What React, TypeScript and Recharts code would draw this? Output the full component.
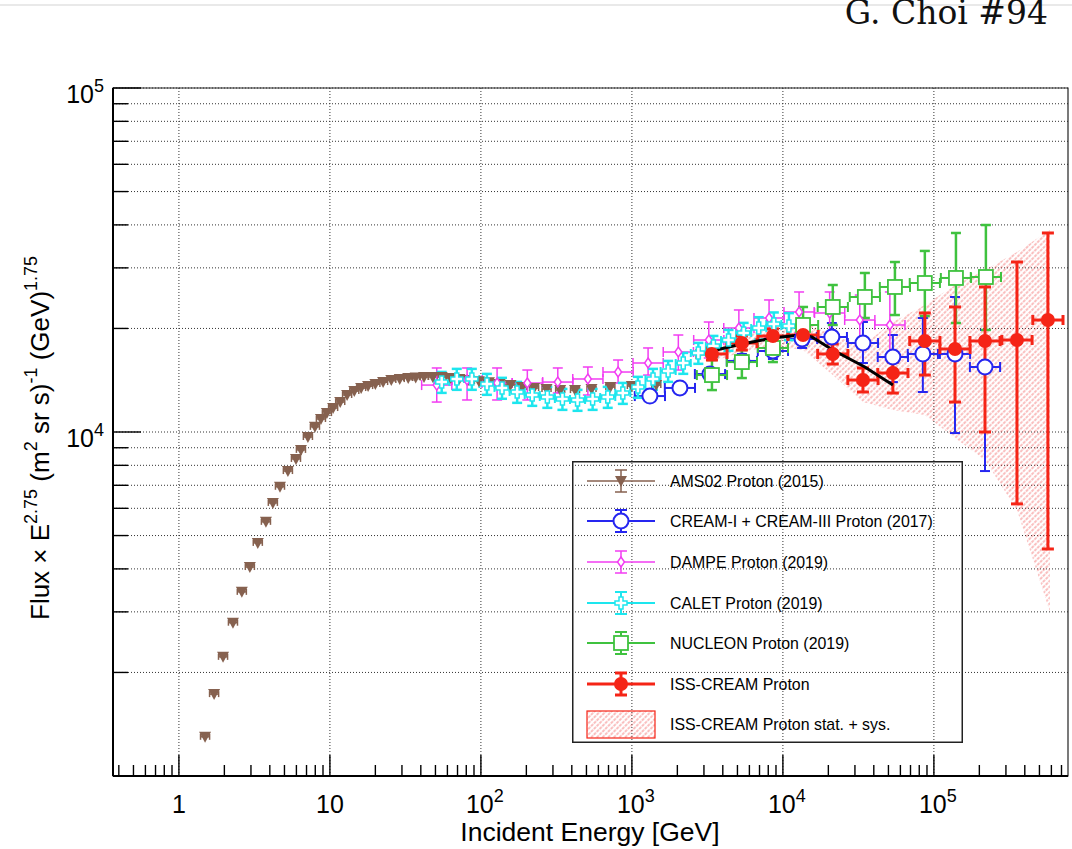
import React from "react";
import {
  ComposedChart,
  XAxis,
  YAxis,
  CartesianGrid,
  Scatter,
  ErrorBar,
  Line,
  Area,
  ReferenceArea,
} from "recharts";

// axis ranges (log-log)
const X_DOMAIN = [0.366, 7.73e5];
const Y_DOMAIN = [1000, 100000];
const X_MAJOR = [1, 10, 100, 1000, 1e4, 1e5];
const Y_MAJOR = [1e4, 1e5];

const minorsOf = (decades: number[], lo: number, hi: number) =>
  decades
    .flatMap((d) => [2, 3, 4, 5, 6, 7, 8, 9].map((m) => m * d))
    .filter((v) => v > lo && v < hi);

const X_TICKS = [...X_MAJOR, ...minorsOf([0.1, 1, 10, 100, 1000, 1e4, 1e5], X_DOMAIN[0], X_DOMAIN[1])];
const Y_TICKS = [1000, ...Y_MAJOR, ...minorsOf([1000, 1e4], 1000, 1e5)];

// AMS02 proton (2015)
const amsE = [1.49, 1.71, 1.96, 2.28, 2.61, 2.95, 3.33, 3.77, 4.19, 4.67, 5.27, 5.96, 6.43, 7.15, 7.96, 8.72, 9.55, 10.5, 11.7, 13.0, 14.5, 16.1, 17.9, 20.0, 22.5, 25.5, 29, 33, 37, 42, 48, 55, 63, 72, 83, 97, 113, 133, 157, 187, 225, 272, 335, 420, 540, 720, 1000, 1450];
const amsF = [1300, 1730, 2220, 2790, 3430, 4050, 4760, 5480, 6220, 6930, 7700, 8350, 8870, 9670, 10350, 10910, 11350, 11740, 12220, 12810, 13150, 13420, 13600, 13790, 13970, 14160, 14250, 14350, 14400, 14450, 14450, 14450, 14350, 14250, 14160, 14050, 13960, 13790, 13690, 13510, 13420, 13330, 13240, 13240, 13330, 13510, 13600, 13690];

// CREAM-I + CREAM-III (2017)
const creamE = [1316, 2080, 3290, 5350, 8590, 13400, 21100, 33900, 53500, 84500, 138000, 218000];
const creamF = [12720, 13430, 14740, 16090, 17200, 18640, 18890, 18140, 16520, 16860, 16860, 15450];
const creamLo = [12390, 13070, 14160, 15350, 16300, 17550, 17310, 15870, 13970, 13070, 9930, 7700];
const creamHi = [13070, 13790, 15350, 16860, 18140, 19800, 20740, 20880, 19140, 21450, 24690, 19800];

// DAMPE (2019)
const dampeE = [51, 81, 128, 203, 323, 511, 810, 1280, 2030, 3230, 5110, 8100, 12800, 20400, 32300, 51100];
const dampeF = [13690, 14160, 13880, 13880, 13970, 14260, 14940, 15870, 17080, 18510, 20060, 21450, 22330, 22180, 21160, 20470];
const dampeLo = [12220, 12390, 12390, 12390, 12980, 12810, 13880, 14640, 15140, 16410, 17780, 18890, 19400, 19140, 17900, 16190];
const dampeHi = [15350, 15350, 15350, 15140, 15350, 15450, 16190, 17550, 19140, 20880, 22630, 24200, 25530, 25530, 25010, 25530];

// CALET (2019)
const caletE = [55.0, 69.2, 87.1, 109.6, 138, 173.8, 218.8, 275.4, 346.7, 436.5, 549.5, 691.8, 871, 1096, 1380, 1738, 2188, 2754, 3467, 4365, 5495, 6918, 8710, 10965];
const caletF = [13970, 14260, 14260, 13790, 13430, 13070, 12810, 12640, 12470, 12390, 12470, 12640, 12980, 13520, 14260, 15040, 15870, 16970, 17780, 18510, 19400, 20060, 20610, 20330];
const caletRelErr = [0.07, 0.07, 0.07, 0.07, 0.07, 0.07, 0.07, 0.07, 0.07, 0.07, 0.07, 0.07, 0.07, 0.07, 0.07, 0.07, 0.07, 0.07, 0.07, 0.07, 0.07, 0.075, 0.08, 0.09];

// NUCLEON (2019)
const nucE = [3390, 5350, 8590, 13600, 21400, 34900, 55200, 87100, 140000, 221000];
const nucF = [14640, 15970, 17550, 20470, 23090, 24690, 26400, 27110, 28040, 28220];
const nucLo = [13240, 14350, 15970, 17900, 20470, 21450, 21880, 21740, 20740, 19800];
const nucHi = [16190, 17310, 19140, 23090, 26750, 28990, 31200, 33600, 37890, 39970];

// ISS-CREAM
const issE = [3390, 5350, 8590, 13600, 21400, 33900, 53500, 87100, 138000, 218000, 355000, 569000];
const issF = [16860, 18140, 19010, 19140, 16860, 14160, 14840, 18390, 17430, 18390, 18510, 21160];
const issLo = [16190, 17310, 18140, 18140, 15760, 13070, 12980, 14640, 12220, 10000, 6180, 4570];
const issHi = [17550, 19010, 19930, 20200, 18020, 15350, 15970, 22180, 23090, 26400, 31200, 37890];

// ISS-CREAM stat. + sys. band
const bandE = [3390, 5350, 8590, 13600, 21400, 33900, 53500, 87100, 138000, 218000, 355000, 586000];
const bandLo = [15970, 17080, 17780, 17310, 14640, 12220, 11590, 11210, 9610, 8290, 5930, 3000];
const bandHi = [17900, 19010, 20060, 20880, 19140, 17900, 20880, 23400, 26750, 29570, 33370, 38660];

// broken power-law fit
const fitE = [3390, 5350, 8590, 12970, 15560, 21400, 34900, 53500];
const fitF = [17200, 18020, 18760, 19140, 18890, 17310, 15450, 13690];

// half bin widths in decades
const BIN_AMS = 0.03;
const BIN_CALET = 0.05;
const BIN_WIDE = 0.1;

const C_AMS = "#86614f";
const C_CREAM = "#2626f0";
const C_DAMPE = "#f23cf2";
const C_CALET = "#1de6ee";
const C_NUC = "#3fc23f";
const C_ISS = "#f52416";

const toPoints = (E: number[], F: number[], lo: number[], hi: number[], half: number) =>
  E.map((x, i) => ({
    x,
    y: F[i],
    ex: [x - x / 10 ** half, x * 10 ** half - x],
    ey: [F[i] - lo[i], hi[i] - F[i]],
  }));

const amsData = toPoints(amsE, amsF, amsF, amsF, BIN_AMS);
const creamData = toPoints(creamE, creamF, creamLo, creamHi, BIN_WIDE);
const dampeData = toPoints(dampeE, dampeF, dampeLo, dampeHi, BIN_WIDE);
const caletData = toPoints(
  caletE,
  caletF,
  caletF.map((f, i) => f * (1 - caletRelErr[i])),
  caletF.map((f, i) => f * (1 + caletRelErr[i])),
  BIN_CALET
);
const nucData = toPoints(nucE, nucF, nucLo, nucHi, BIN_WIDE);
const issData = toPoints(issE, issF, issLo, issHi, BIN_WIDE);
const bandData = bandE.map((x, i) => ({ x, range: [bandLo[i], bandHi[i]] }));
const fitData = fitE.map((x, i) => ({ x, y: fitF[i] }));

const FONT = '"Liberation Sans", Arial, Helvetica, sans-serif';
const TICK_FS = 25;
const SUP_FS = 18;

// marker shapes
const TriDown = ({ cx, cy }: any) => (
  <polygon points={`${cx - 6},${cy - 5} ${cx + 6},${cy - 5} ${cx},${cy + 6}`} fill={C_AMS} />
);
const OpenCircle = ({ cx, cy }: any) => (
  <circle cx={cx} cy={cy} r={7.5} fill="#fff" stroke={C_CREAM} strokeWidth={2} />
);
const OpenDiamond = ({ cx, cy }: any) => (
  <polygon points={`${cx},${cy - 5} ${cx + 3.5},${cy} ${cx},${cy + 5} ${cx - 3.5},${cy}`} fill="#fff" stroke={C_DAMPE} strokeWidth={1.5} />
);
const OpenCross = ({ cx, cy }: any) => {
  const s = 6;
  const t = 2;
  const d = `M${cx - t},${cy - s}H${cx + t}V${cy - t}H${cx + s}V${cy + t}H${cx + t}V${cy + s}H${cx - t}V${cy + t}H${cx - s}V${cy - t}H${cx - t}Z`;
  return <path d={d} fill="#fff" stroke={C_CALET} strokeWidth={1.5} />;
};
const OpenSquare = ({ cx, cy }: any) => (
  <rect x={cx - 7} y={cy - 7} width={14} height={14} fill="#fff" stroke={C_NUC} strokeWidth={1.8} />
);
const FullCircle = ({ cx, cy }: any) => <circle cx={cx} cy={cy} r={7} fill={C_ISS} />;

const Decade = ({ x, y, v, anchor }: { x: number; y: number; v: number; anchor: "start" | "end" }) => {
  const exp = Math.round(Math.log10(v));
  if (exp <= 1) {
    return (
      <text x={x} y={y} textAnchor="middle" fontSize={TICK_FS} fontFamily={FONT} fill="#000">
        {String(v)}
      </text>
    );
  }
  return (
    <text x={x} y={y} textAnchor={anchor} fontSize={TICK_FS} fontFamily={FONT} fill="#000">
      10
      <tspan dy={-11} fontSize={SUP_FS}>
        {exp}
      </tspan>
    </text>
  );
};

const XTick = ({ x, y, payload }: any) => {
  const v = payload.value;
  const major = X_MAJOR.includes(v);
  return (
    <g>
      <line x1={x} x2={x} y1={y} y2={y - (major ? 21 : 11)} stroke="#000" strokeWidth={1.4} />
      {major && <Decade x={v >= 100 ? x - 15 : x} y={y + 37} v={v} anchor="start" />}
    </g>
  );
};

const YTick = ({ x, y, payload }: any) => {
  const v = payload.value;
  if (v <= 1000) return <g />;
  const major = Y_MAJOR.includes(v);
  return (
    <g>
      <line x1={x} x2={x + (major ? 28 : 15)} y1={y} y2={y} stroke="#000" strokeWidth={1.4} />
      {major && <Decade x={x - 9} y={y + 15} v={v} anchor="end" />}
    </g>
  );
};

type Row = { label: string; color: string; marker: (p: any) => React.ReactElement; width: number };

const LEGEND_ROWS: Row[] = [
  { label: "AMS02 Proton (2015)", color: C_AMS, marker: TriDown, width: 1.5 },
  { label: "CREAM-I + CREAM-III Proton (2017)", color: C_CREAM, marker: OpenCircle, width: 2 },
  { label: "DAMPE Proton (2019)", color: C_DAMPE, marker: OpenDiamond, width: 1.5 },
  { label: "CALET Proton (2019)", color: C_CALET, marker: OpenCross, width: 2 },
  { label: "NUCLEON Proton (2019)", color: C_NUC, marker: OpenSquare, width: 2 },
  { label: "ISS-CREAM Proton", color: C_ISS, marker: FullCircle, width: 3 },
];

const HatchDef = ({ id }: { id: string }) => (
  <pattern id={id} width={4} height={4} patternUnits="userSpaceOnUse" patternTransform="rotate(45)">
    <line x1={1} y1={0} x2={1} y2={4} stroke="#f04848" strokeWidth={1} strokeDasharray="2.2 1" strokeOpacity={0.7} />
  </pattern>
);

function LegendBox() {
  const rowY = [20, 60, 101, 142, 182, 223];
  return (
    <svg width={391} height={282} style={{ position: "absolute", left: 572, top: 461 }}>
      <defs>
        <HatchDef id="hatchLegend" />
      </defs>
      <rect x={0.75} y={0.75} width={389.5} height={280.5} fill="none" stroke="#222" strokeWidth={1.5} />
      {LEGEND_ROWS.map((r, i) => {
        const cy = rowY[i];
        const M = r.marker;
        return (
          <g key={r.label}>
            <line x1={15} x2={83} y1={cy} y2={cy} stroke={r.color} strokeWidth={r.width} />
            <line x1={49} x2={49} y1={cy - 11} y2={cy + 11} stroke={r.color} strokeWidth={r.width} />
            <line x1={43} x2={55} y1={cy - 11} y2={cy - 11} stroke={r.color} strokeWidth={r.width} />
            <line x1={43} x2={55} y1={cy + 11} y2={cy + 11} stroke={r.color} strokeWidth={r.width} />
            <M cx={49} cy={cy} />
            <text x={98} y={cy + 5.5} fontSize={15.9} fontFamily={FONT} fill="#000">
              {r.label}
            </text>
          </g>
        );
      })}
      <rect x={15} y={250} width={68} height={27} fill="url(#hatchLegend)" stroke={C_ISS} strokeWidth={1.2} />
      <text x={98} y={269} fontSize={15.9} fontFamily={FONT} fill="#000">
        ISS-CREAM Proton stat. + sys.
      </text>
    </svg>
  );
}

export default function App() {
  return (
    <div style={{ position: "absolute", left: 0, top: 0, width: 1072, height: 849, background: "#fff", overflow: "hidden" }}>
      <ComposedChart
        width={1072}
        height={849}
        margin={{ top: 88, right: 4, bottom: 13, left: 13 }}
        style={{ position: "absolute", left: 0, top: 0 }}
      >
        <defs>
          <HatchDef id="hatchBand" />
        </defs>
        <CartesianGrid
          stroke="#333"
          strokeDasharray="1 2"
          horizontalValues={Y_TICKS}
          verticalValues={X_MAJOR}
        />
        <XAxis
          dataKey="x"
          type="number"
          scale="log"
          domain={X_DOMAIN}
          allowDataOverflow
          ticks={X_TICKS}
          interval={0}
          tickLine={false}
          tickSize={0}
          tickMargin={0}
          tick={<XTick />}
          axisLine={{ stroke: "#000", strokeWidth: 2 }}
          height={60}
        />
        <YAxis
          type="number"
          scale="log"
          domain={Y_DOMAIN}
          allowDataOverflow
          ticks={Y_TICKS}
          interval={0}
          tickLine={false}
          tickSize={0}
          tickMargin={0}
          tick={<YTick />}
          axisLine={{ stroke: "#000", strokeWidth: 2 }}
          width={100}
        />
        <ReferenceArea
          x1={X_DOMAIN[0]}
          x2={X_DOMAIN[1]}
          y1={Y_DOMAIN[0]}
          y2={Y_DOMAIN[1]}
          fill="none"
          stroke="#222"
          strokeWidth={1.2}
        />
        <Area
          data={bandData}
          dataKey="range"
          type="linear"
          stroke="none"
          fill="url(#hatchBand)"
          fillOpacity={1}
          isAnimationActive={false}
        />
        <Scatter data={amsData} dataKey="y" shape={TriDown} isAnimationActive={false}>
          <ErrorBar dataKey="ex" direction="x" width={3} stroke={C_AMS} strokeWidth={1.5} />
        </Scatter>
        <Scatter data={creamData} dataKey="y" shape={OpenCircle} isAnimationActive={false}>
          <ErrorBar dataKey="ex" direction="x" width={5} stroke={C_CREAM} strokeWidth={2} />
          <ErrorBar dataKey="ey" direction="y" width={5} stroke={C_CREAM} strokeWidth={2} />
        </Scatter>
        <Scatter data={dampeData} dataKey="y" shape={OpenDiamond} isAnimationActive={false}>
          <ErrorBar dataKey="ex" direction="x" width={5} stroke={C_DAMPE} strokeWidth={1.5} />
          <ErrorBar dataKey="ey" direction="y" width={5} stroke={C_DAMPE} strokeWidth={1.5} />
        </Scatter>
        <Scatter data={caletData} dataKey="y" shape={OpenCross} isAnimationActive={false}>
          <ErrorBar dataKey="ex" direction="x" width={4} stroke={C_CALET} strokeWidth={2} />
          <ErrorBar dataKey="ey" direction="y" width={5} stroke={C_CALET} strokeWidth={2.5} />
        </Scatter>
        <Scatter data={nucData} dataKey="y" shape={OpenSquare} isAnimationActive={false}>
          <ErrorBar dataKey="ex" direction="x" width={5} stroke={C_NUC} strokeWidth={2} />
          <ErrorBar dataKey="ey" direction="y" width={5} stroke={C_NUC} strokeWidth={2.5} />
        </Scatter>
        <Scatter data={issData} dataKey="y" shape={FullCircle} isAnimationActive={false}>
          <ErrorBar dataKey="ex" direction="x" width={5} stroke={C_ISS} strokeWidth={3} />
          <ErrorBar dataKey="ey" direction="y" width={6} stroke={C_ISS} strokeWidth={3} />
        </Scatter>
        <Line
          data={fitData}
          dataKey="y"
          type="linear"
          stroke="#000"
          strokeWidth={3}
          dot={false}
          isAnimationActive={false}
        />
      </ComposedChart>

      <svg width={1072} height={849} style={{ position: "absolute", left: 0, top: 0, pointerEvents: "none" }}>
        <line x1={0} x2={1072} y1={5} y2={5} stroke="#d4d4d4" strokeWidth={1.2} />
        <text x={1048} y={24} textAnchor="end" fontSize={33} fontFamily='"DejaVu Serif", serif' fill="#111">
          G. Choi #94
        </text>
        <text x={590} y={841} textAnchor="middle" fontSize={26.5} fontFamily={FONT} fill="#000">
          Incident Energy [GeV]
        </text>
        <text
          transform="translate(49,620) rotate(-90)"
          textAnchor="start"
          fontSize={26}
          fontFamily={FONT}
          fill="#000"
        >
          Flux × E<tspan dy={-12} fontSize={18}>2.75</tspan>
          <tspan dy={12}> (m</tspan>
          <tspan dy={-12} fontSize={18}>2</tspan>
          <tspan dy={12}> sr s)</tspan>
          <tspan dy={-12} fontSize={18}>-1</tspan>
          <tspan dy={12}> (GeV)</tspan>
          <tspan dy={-12} fontSize={18}>1.75</tspan>
        </text>
      </svg>
      <LegendBox />
    </div>
  );
}
